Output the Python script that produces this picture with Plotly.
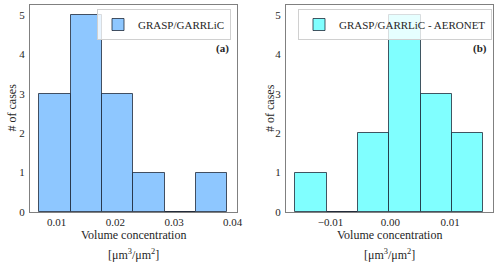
import plotly.graph_objects as go

# ---- data ----
edges_a = [0.00705, 0.01239, 0.01773, 0.02307, 0.02841, 0.03375, 0.03909]
counts_a = [3, 5, 3, 1, 0, 1]
edges_b = [-0.01587, -0.01063, -0.00539, -0.00015, 0.00509, 0.01033, 0.01557]
counts_b = [1, 0, 2, 5, 3, 2]
xticks_a = [0.01, 0.02, 0.03, 0.04]
xticklabels_a = ["0.01", "0.02", "0.03", "0.04"]
xticks_b = [-0.01, 0.0, 0.01]
xticklabels_b = ["\u22120.01", "0.00", "0.01"]
yticks = [0, 1, 2, 3, 4, 5]
name_a = "GRASP/GARRLiC"
name_b = "GRASP/GARRLiC - AERONET"

W, H = 500, 267
FONT = "Times New Roman, Liberation Serif, serif"
TXT = "#262626"


def centers(e):
    return [(e[i] + e[i + 1]) / 2 for i in range(len(e) - 1)]


def widths(e):
    return [e[i + 1] - e[i] for i in range(len(e) - 1)]


fig = go.Figure()
fig.add_trace(go.Bar(x=centers(edges_a), y=counts_a, width=widths(edges_a),
                     marker=dict(color="#8ec7ff", line=dict(color="rgba(20,30,45,0.75)", width=1)),
                     name=name_a, xaxis="x", yaxis="y", legend="legend", showlegend=True))
fig.add_trace(go.Bar(x=centers(edges_b), y=counts_b, width=widths(edges_b),
                     marker=dict(color="#80ffff", line=dict(color="rgba(20,30,45,0.75)", width=1)),
                     name=name_b, xaxis="x2", yaxis="y2", legend="legend2", showlegend=True))

px = lambda v: v / W
py = lambda v: 1 - v / H

axis_common = dict(showline=True, mirror=True, linecolor="#808080", linewidth=1,
                   showgrid=False, zeroline=False, ticks="", automargin=False,
                   tickfont=dict(family=FONT, size=11, color=TXT))

fig.update_layout(
    width=W, height=H, margin=dict(l=0, r=0, t=0, b=0, pad=0, autoexpand=False),
    paper_bgcolor="white", plot_bgcolor="white",
    font=dict(family=FONT, color=TXT, size=12),
    bargap=0, showlegend=True,
    xaxis=dict(domain=[px(30), px(236.7)], range=[0.00545, 0.04069],
               tickvals=xticks_a, ticktext=xticklabels_a, anchor="y", **axis_common),
    yaxis=dict(domain=[py(212), py(5)], range=[0, 5.25], tickvals=yticks,
               anchor="x", ticklabelstandoff=2, **axis_common),
    xaxis2=dict(domain=[px(286), px(492.7)], range=[-0.01744, 0.01714],
                tickvals=xticks_b, ticktext=xticklabels_b, anchor="y2", **axis_common),
    yaxis2=dict(domain=[py(212), py(5)], range=[0, 5.25], tickvals=yticks,
                anchor="x2", ticklabelstandoff=2, **axis_common),
    legend=dict(x=px(231), y=py(9), xanchor="right", yanchor="top", visible=True,
                bgcolor="rgba(255,255,255,0.8)", bordercolor="#d0d0d0", borderwidth=1,
                font=dict(family=FONT, size=11, color=TXT)),
    legend2=dict(x=px(492), y=py(9), xanchor="right", yanchor="top", visible=True,
                 bgcolor="rgba(255,255,255,0.8)", bordercolor="#d0d0d0", borderwidth=1,
                 font=dict(family=FONT, size=11, color=TXT)),
)

ann = []
for cx, ylx, tag, tx in [(133.4, 11.5, "(a)", 222), (389.4, 270, "(b)", 480)]:
    ann.append(dict(text="Volume concentration", x=px(cx), y=py(235), xref="paper", yref="paper",
                    showarrow=False, font=dict(family=FONT, size=12, color=TXT),
                    xanchor="center", yanchor="middle"))
    ann.append(dict(text="[\u03bcm<sup>3</sup>/\u03bcm<sup>2</sup>]", x=px(cx), y=py(254), xref="paper", yref="paper",
                    showarrow=False, font=dict(family=FONT, size=12, color=TXT),
                    xanchor="center", yanchor="middle"))
    ann.append(dict(text="# of cases", x=px(ylx), y=py(108), xref="paper", yref="paper",
                    showarrow=False, textangle=-90, font=dict(family=FONT, size=12, color=TXT),
                    xanchor="center", yanchor="middle"))
    ann.append(dict(text="<b>" + tag + "</b>", x=px(tx), y=py(48), xref="paper", yref="paper",
                    showarrow=False, font=dict(family=FONT, size=11, color=TXT),
                    xanchor="center", yanchor="middle"))
fig.update_layout(annotations=ann)

fig.write_html("out.html", config={"displayModeBar": False},
               post_script="document.body.style.margin='0px';")
